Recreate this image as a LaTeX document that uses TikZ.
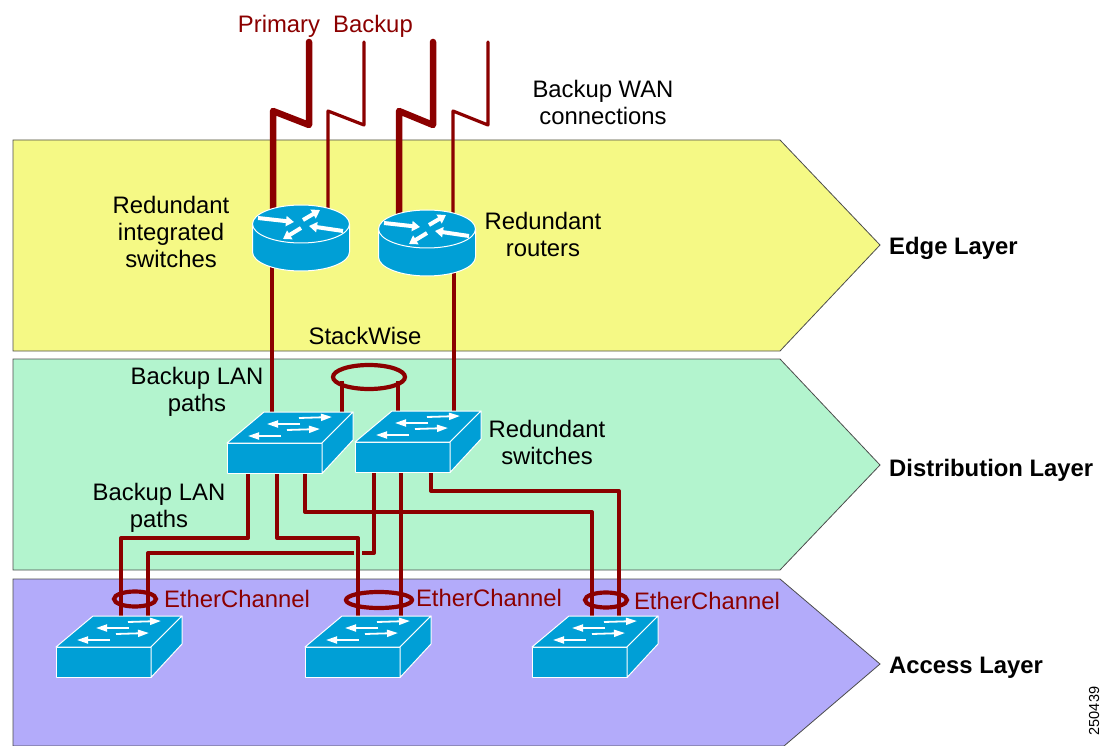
\documentclass[tikz,border=0pt]{standalone}
\usepackage{fontspec}
\setmainfont{Liberation Sans}
\usetikzlibrary{calc,arrows.meta}
\definecolor{wan}{HTML}{8B0000}
\definecolor{icon}{HTML}{009FD6}
\definecolor{edgeband}{HTML}{F5F985}
\definecolor{distband}{HTML}{B3F4CE}
\definecolor{accband}{HTML}{B3ABFA}
\pgfdeclarelayer{back}
\pgfsetlayers{back,main}
\tikzset{
  band/.style={draw=black!70,line width=0.8pt},
  lbl/.style={inner sep=0,align=center,font=\fontsize{23.85}{27}\selectfont},
  redlbl/.style={lbl,text=wan},
  layerlbl/.style={inner sep=0,anchor=west,font=\fontsize{23.85}{27}\selectfont\bfseries},
  thick wan/.style={draw=wan,line width=6.5pt,line join=round,line cap=round},
  thin wan/.style={draw=wan,line width=3.2pt,line join=round,line cap=round},
  lan/.style={draw=wan,line width=4pt,line join=round},
  ring/.style={draw=wan,line width=4.2pt},
  iconface/.style={fill=icon,draw=white,line width=1pt,line join=round},
  wharrow/.style={draw=white,line width=1.8pt,-{Triangle[width=7pt,length=11pt]}},
  rtarrow/.style={draw=white,line width=4pt,-{Triangle[width=10pt,length=8pt]}},
}
\newcommand{\routericon}[3]{%
  \node[minimum width=97pt,minimum height=66pt,inner sep=0] (#1) at (#2,#3+14) {};
  \begin{scope}[shift={(#2,#3)}]
    \filldraw[iconface] (-48.5,0) -- (-48.5,28) arc[start angle=180,end angle=0,x radius=48.5,y radius=19] -- (48.5,0) -- cycle;
    \filldraw[iconface] (0,0) ellipse[x radius=48.5,y radius=19];
    \draw[rtarrow] (-43,-6) -- (-7,-2);
    \draw[rtarrow] (2,-4) -- (19,-14);
    \draw[rtarrow] (0,4) -- (-18,15);
    \draw[rtarrow] (42,7) -- (8,2);
  \end{scope}
}
\newcommand{\switchicon}[3]{%
  \node[minimum width=95pt,minimum height=30.5pt,inner sep=0,anchor=north west] (#1) at (#2,#3) {};
  \begin{scope}[shift={(#2,#3)}]
    \filldraw[iconface] (0,0) rectangle (95,30.5);
    \filldraw[iconface] (0,0) -- (37,-31) -- (126,-31) -- (95,0) -- cycle;
    \filldraw[iconface] (95,0) -- (126,-31) -- (126,-3) -- (95,30.5) -- cycle;
    \draw[wharrow] (73,-19) -- (40,-19);
    \draw[wharrow] (72,-25) -- (105,-26);
    \draw[wharrow] (60,-13) -- (93,-14);
    \draw[wharrow] (54,-7) -- (21,-7);
  \end{scope}
}
\begin{document}
\begin{tikzpicture}[x=1pt,y=-1pt]
\useasboundingbox (0,0) rectangle (1106,746);
% icons
\routericon{r1}{301}{224}
\routericon{r2}{427}{229}
\switchicon{s1}{227}{443}
\switchicon{s2}{355}{442}
\switchicon{a1}{56}{647}
\switchicon{a2}{305}{647}
\switchicon{a3}{532}{647}
% free ends and rings
\coordinate (w1) at (309,42);
\coordinate (w2) at (364,42);
\coordinate (w3) at (433,42);
\coordinate (w4) at (488,42);
\node[minimum width=74pt,minimum height=24pt,inner sep=0] (stackring) at (369,377) {};
\node[minimum width=44pt,minimum height=16pt,inner sep=0] (ec1) at (135,599) {};
\node[minimum width=66pt,minimum height=16pt,inner sep=0] (ec2) at (379,600) {};
\node[minimum width=44pt,minimum height=16pt,inner sep=0] (ec3) at (606,600) {};
% labels
\node[redlbl] (tprimary) at (279,26) {Primary};
\node[redlbl] (tbackup) at (373,26) {Backup};
\node[lbl] (twan) at (603,102) {Backup WAN\\connections};
\node[lbl] (tris) at (171,232) {Redundant\\integrated\\switches};
\node[lbl] (trr) at (543,234) {Redundant\\routers};
\node[lbl] (tsw) at (365,336) {StackWise};
\node[lbl] (tlan1) at (197,392) {Backup LAN\\paths};
\node[lbl] (trs) at (547,442) {Redundant\\switches};
\node[lbl] (tlan2) at (159,508) {Backup LAN\\paths};
\node[redlbl] (tec1) at (237,599) {EtherChannel};
\node[redlbl] (tec2) at (489,598) {EtherChannel};
\node[redlbl] (tec3) at (707,601) {EtherChannel};
\node[layerlbl] (tedge) at (889,248) {Edge Layer};
\node[layerlbl] (tdist) at (889,470) {Distribution Layer};
\node[layerlbl] (tacc) at (889,668) {Access Layer};
\node[inner sep=0,rotate=90,font=\fontsize{14.5}{16}\selectfont] (tnum) at (1094,711) {250439};
\begin{pgfonlayer}{back}
% bands
\draw[band,fill=edgeband] (13,140) -- (780,140) -- (880,245) -- (780,351) -- (13,351) -- cycle;
\draw[band,fill=distband] (13,359) -- (780,359) -- (880,465) -- (780,570) -- (13,570) -- cycle;
\draw[band,fill=accband] (13,579) -- (780,579) -- (880,664) -- (784,746) -- (13,746) -- cycle;
% WAN links
\draw[thick wan] (w1) -- (309,125) -- (273,111) -- ($(r1.north)+(-28,20)$);
\draw[thin wan] (w2) -- (364,125) -- (328,111) -- ($(r1.north)+(27,20)$);
\draw[thick wan] (w3) -- (433,125) -- (399,111) -- ($(r2.north)+(-28,20)$);
\draw[thin wan] (w4) -- (488,125) -- (453,111) -- ($(r2.north)+(26,20)$);
% routers to switches
\draw[lan] ($(r1.south)+(-29,-10)$) -- ($(s1.north west)+(45,-20)$);
\draw[lan] ($(r2.south)+(27,-10)$) -- ($(s2.north west)+(99,-20)$);
% stack
\draw[lan] ($(stackring.south)+(-27,-8)$) -- ($(s1.north west)+(115,-20)$);
\draw[lan] ($(stackring.south)+(29,-8)$) -- ($(s2.north west)+(43,-20)$);
% distribution to access
\draw[lan] ($(s1.south west)+(21,-5)$) |- (121,538) -- ($(a1.north west)+(65,-20)$);
\draw[lan] ($(s1.south west)+(50,-5)$) |- (358,538) -- ($(a2.north west)+(53,-20)$);
\draw[lan] ($(s1.south west)+(78,-5)$) |- (592,512) -- ($(a3.north west)+(60,-20)$);
\draw[lan] ($(s2.south west)+(19,-5)$) |- (362,553);
\draw[lan] (354,553) -| ($(a1.north west)+(92,-20)$);
\draw[lan] ($(s2.south west)+(46,-5)$) -- ($(a2.north west)+(96,-20)$);
\draw[lan] ($(s2.south west)+(76,-5)$) |- (619,491) -- ($(a3.north west)+(87,-20)$);
% rings
\draw[ring] (stackring.center) ellipse[x radius=36,y radius=12];
\draw[ring] (ec1.center) ellipse[x radius=21,y radius=7.5];
\draw[ring] (ec2.center) ellipse[x radius=33,y radius=8];
\draw[ring] (ec3.center) ellipse[x radius=21,y radius=7.5];
\end{pgfonlayer}
\end{tikzpicture}
\end{document}
